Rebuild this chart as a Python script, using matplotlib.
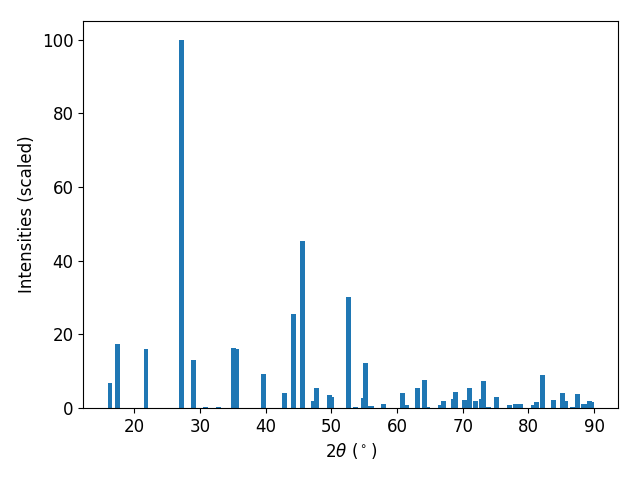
import matplotlib
matplotlib.use("Agg")
import matplotlib.pyplot as plt

# peak positions (2theta, degrees) and scaled intensities
two_theta = [16.27, 17.38, 21.75, 27.23, 29.06, 30.88, 32.86, 35.14, 35.6, 39.7,
             42.8, 44.2, 45.64, 47.3, 47.77, 49.75, 50.05, 52.65, 53.7, 54.9,
             55.23, 55.75, 56.1, 57.97, 60.86, 61.5, 63.15, 64.2, 64.7, 66.6,
             67.1, 68.6, 68.9, 70.3, 71.05, 71.9, 72.9, 73.2, 73.95, 75.2,
             77.15, 78.06, 78.8, 80.8, 81.25, 82.17, 83.85, 85.2, 85.6, 86.7,
             87.5, 88.4, 88.6, 89.3, 89.6]
intensities = [6.7, 17.5, 16.1, 100.0, 12.9, 0.3, 0.3, 16.4, 15.9, 9.1,
               4.2, 25.6, 45.2, 2.0, 5.3, 3.4, 3.1, 30.0, 0.3, 2.8,
               12.1, 0.5, 0.5, 1.1, 4.2, 0.7, 5.3, 7.7, 0.3, 0.8,
               1.8, 2.5, 4.4, 2.3, 5.5, 1.8, 2.5, 7.2, 0.3, 3.1,
               0.7, 1.1, 1.1, 0.7, 1.6, 8.9, 2.3, 4.2, 1.8, 0.2,
               3.9, 1.1, 1.1, 1.8, 1.6]

plt.rcParams['font.size'] = 12

fig, ax = plt.subplots(figsize=(6.4, 4.8), dpi=100)
ax.bar(two_theta, intensities, width=0.75, color='tab:blue')
ax.set_xlabel(r'2$\theta$ ($^\circ$)')
ax.set_ylabel('Intensities (scaled)')

fig.subplots_adjust(left=0.13, right=0.966, top=0.956, bottom=0.15)
fig.savefig('out.png', dpi=100)
